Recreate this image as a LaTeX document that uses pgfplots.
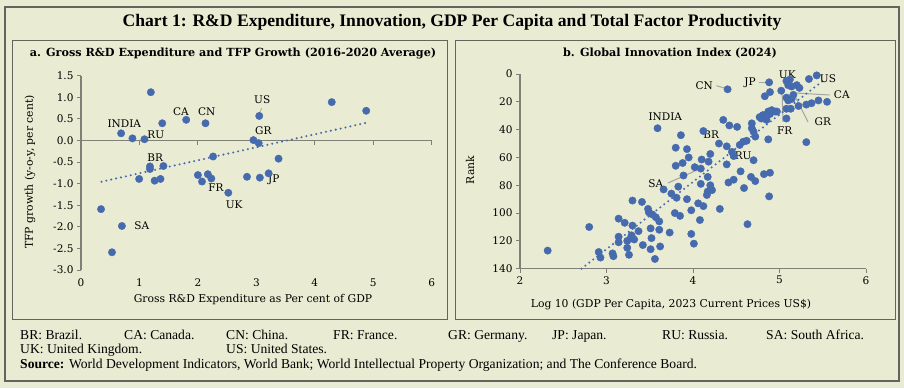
\documentclass[border=0pt]{standalone}
\usepackage{pgfplots}
\usepackage{pgfplotstable}
\pgfplotsset{compat=1.18}
\usepackage{fontspec}
\setmainfont{DejaVu Serif}
\newfontfamily\notefont{Liberation Serif}
\definecolor{bg}{RGB}{233,235,210}
\definecolor{dotblue}{RGB}{70,106,174}
\definecolor{framec}{RGB}{100,100,95}
\definecolor{axisc}{RGB}{128,128,120}
\definecolor{leadc}{RGB}{165,165,160}
\definecolor{leadg}{RGB}{140,200,120}

\pgfplotstableread{
x y
0.343 -1.59
0.53 -2.59
0.70 -1.98
0.686 0.167
0.88 0.05
1.086 0.03
0.995 -0.89
1.195 1.12
1.18 -0.60
1.18 -0.66
1.26 -0.93
1.36 -0.89
1.41 -0.59
1.39 0.40
1.80 0.48
2.13 0.40
2.00 -0.80
2.07 -0.95
2.17 -0.78
2.23 -0.88
2.26 -0.37
2.52 -1.21
2.84 -0.84
2.95 0.01
3.04 -0.06
3.05 0.57
3.06 -0.86
3.21 -0.76
3.38 -0.42
4.29 0.89
4.88 0.69
}\leftdata

\pgfplotstableread{
x r
2.32 127
2.80 110
2.91 128
2.93 132
3.07 129
3.08 131
3.14 104
3.21 107
3.30 109
3.37 113
3.14 117
3.14 121
3.24 120
3.29 116
3.28 118
3.32 119
3.24 125
3.26 130
3.30 91
3.41 92
3.48 97
3.49 99.5
3.53 101
3.57 103
3.61 106
3.51 111
3.61 112
3.52 118
3.42 123
3.62 124
3.51 126
3.56 133
3.73 114
3.98 115
4.01 122
3.79 100
3.85 102
3.98 98
4.06 93
4.12 95
4.08 105
4.31 97
4.63 108
4.88 88
3.66 83
3.75 86
3.81 89
3.93 90
3.83 81
4.09 79
4.20 80
4.17 84.5
4.22 83.5
4.16 87
4.41 78
4.47 76
4.59 82
3.89 73
4.17 74
4.55 70
4.67 74
4.72 77
4.82 72
4.89 71
3.80 66
3.88 64
3.95 60
4.10 61.5
4.20 57.5
4.18 63
4.02 67
4.09 68
4.39 65
3.80 53
3.93 54
3.86 44
3.59 39
4.12 41
4.30 50
4.39 52
4.45 56
4.47 59
4.70 62
4.35 33
4.42 37
4.51 38
4.40 11
4.58 48.7
4.54 51
4.62 48
4.68 35.5
4.68 39
4.70 41.5
4.72 45
4.87 47
4.77 31
4.81 29.5
4.87 27
4.91 26
4.95 27
4.89 28.8
4.85 33
4.79 32
4.97 27
5.08 32
5.43 1
5.34 3.6
5.08 5
5.12 4
5.10 8
5.14 9
5.23 10
5.20 8
5.02 12
4.88 6
4.89 13
4.83 16
5.08 17
5.10 19
5.14 18
5.16 15
5.55 20
5.45 19
5.37 21
5.31 22
5.22 23
5.13 25
5.08 25
5.31 49
}\rightdata

\pgfplotsset{
 mystyle/.style={
  scale only axis,
  axis line style={axisc, line width=1.2pt},
  tick style={axisc, line width=1pt},
  tick align=outside,
  major tick length=4pt,
  ticklabel style={font=\fontsize{10.5}{12}\selectfont, text=black},
  /pgf/number format/assume math mode=true,
  clip=false,
 },
 pts/.style={only marks, mark=*, mark size=3.7pt, color=dotblue, mark options={fill=dotblue, draw=dotblue}},
 trend/.style={dotblue, line width=2.3pt, line cap=round, dash pattern=on 0pt off 5pt},
}
\tikzset{lab/.style={font=\fontsize{10.5}{12}\selectfont, inner sep=0pt}}

\begin{document}
\begin{tikzpicture}[x=1pt,y=-1pt]
\useasboundingbox (0,0) rectangle (904,388);
\fill[bg] (0,0) rectangle (904,388);
\draw[framec, line width=1.2pt] (5,7) rectangle (899,381);
\draw[framec, line width=1pt] (12,40) rectangle (447,319);
\draw[framec, line width=1pt] (455,40) rectangle (895,319);

\node[font=\notefont\bfseries\fontsize{17.6}{19}\selectfont] at (452,22) {Chart 1: R\&D Expenditure, Innovation, GDP Per Capita and Total Factor Productivity};

\node[font=\bfseries\fontsize{11.2}{13}\selectfont] at (233,53) {a. Gross R\&D Expenditure and TFP Growth (2016-2020 Average)};
\node[font=\bfseries\fontsize{11.2}{13}\selectfont] at (670,53) {b. Global Innovation Index (2024)};

\node[font=\fontsize{10.8}{12}\selectfont, rotate=90] at (30,172) {TFP growth (y-o-y, per cent)};
\node[font=\fontsize{10.8}{12}\selectfont] at (253,300) {Gross R\&D Expenditure as Per cent of GDP};
\node[font=\fontsize{10.8}{12}\selectfont, rotate=90] at (470,170) {Rank};
\node[font=\fontsize{10.8}{12}\selectfont] at (671,305) {Log 10 (GDP Per Capita, 2023 Current Prices US\$)};

% left panel
\begin{axis}[mystyle,
  at={(81pt,-270pt)}, anchor=south west,
  width=350.7pt, height=194.2pt,
  xmin=0, xmax=6, ymin=-3, ymax=1.5,
  axis y line*=left, axis x line*=bottom,
  x axis line style={draw=none},
  xtick={0,1,2,3,4,5,6}, xtick style={draw=none},
  ytick={-3,-2.5,-2,-1.5,-1,-0.5,0,0.5,1,1.5},
  yticklabels={-3.0,-2.5,-2.0,-1.5,-1.0,-0.5,0.0,0.5,1.0,1.5},
  xticklabel style={yshift=-1pt},
]
\draw[axisc, line width=1.2pt] (axis cs:0,0) -- (axis cs:6,0);
\pgfplotsinvokeforeach{1,2,3,4,5,6}{\draw[axisc, line width=1pt] (axis cs:#1,0) -- ++(0pt,-4pt);}
\addplot[trend] coordinates {(0.35,-0.955) (4.88,0.41)};
\addplot[pts] table[x=x, y=y] {\leftdata};
\draw[leadg, line width=0.8pt] (axis cs:3.09,0.75) -- (axis cs:3.05,0.62);
\node[lab] at (axis cs:0.74,0.40) {INDIA};
\node[lab] at (axis cs:1.28,0.13) {RU};
\node[lab] at (axis cs:1.71,0.66) {CA};
\node[lab] at (axis cs:2.15,0.68) {CN};
\node[lab] at (axis cs:1.27,-0.39) {BR};
\node[lab] at (axis cs:1.04,-1.98) {SA};
\node[lab] at (axis cs:2.31,-1.09) {FR};
\node[lab] at (axis cs:2.62,-1.48) {UK};
\node[lab] at (axis cs:3.10,0.94) {US};
\node[lab] at (axis cs:3.12,0.22) {GR};
\node[lab] at (axis cs:3.30,-0.92) {JP};
\end{axis}

% right panel
\begin{axis}[mystyle,
  at={(520pt,-268.7pt)}, anchor=south west,
  width=346pt, height=194.7pt,
  xmin=2, xmax=6, ymin=-140, ymax=0,
  axis y line*=left, axis x line*=bottom,
  xtick={2,3,4,5,6},
  ytick={-140,-120,-100,-80,-60,-40,-20,0},
  yticklabels={140,120,100,80,60,40,20,0},
]
\draw[leadc, line width=1pt] (axis cs:4.27,-8.4) -- (axis cs:4.38,-10.4);
\draw[leadc, line width=1pt] (axis cs:4.76,-6.3) -- (axis cs:4.86,-6.3);
\draw[leadc, line width=1pt] (axis cs:5.58,-15.1) -- (axis cs:5.14,-13.5);
\draw[leadc, line width=1pt] (axis cs:5.33,-34.5) -- (axis cs:5.16,-13.7);
\draw[leadc, line width=1pt] (axis cs:5.04,-34.5) -- (axis cs:5.03,-12.2);
\draw[leadc, line width=1pt] (axis cs:3.71,-78.4) -- (axis cs:4.05,-69);
\addplot[pts] table[x=x, y expr=-\thisrow{r}] {\rightdata};
\addplot[trend] coordinates {(2.71,-140) (5.50,-5)};
\node[lab] at (axis cs:4.13,-8.4) {CN};
\node[lab] at (axis cs:4.66,-6.5) {JP};
\node[lab] at (axis cs:5.09,-0.4) {UK};
\node[lab] at (axis cs:5.56,-3.6) {US};
\node[lab] at (axis cs:5.72,-15.1) {CA};
\node[lab] at (axis cs:5.50,-34.5) {GR};
\node[lab] at (axis cs:5.06,-41) {FR};
\node[lab] at (axis cs:3.68,-30.4) {INDIA};
\node[lab] at (axis cs:4.21,-43.9) {BR};
\node[lab] at (axis cs:4.58,-59) {RU};
\node[lab] at (axis cs:3.57,-78.6) {SA};
\end{axis}

% footnotes
\begin{scope}[every node/.style={font=\notefont\fontsize{13.6}{15}\selectfont, anchor=base west, inner sep=0pt}]
\node at (20,339) {BR: Brazil.};
\node at (124,339) {CA: Canada.};
\node at (226,339) {CN: China.};
\node at (333,339) {FR: France.};
\node at (448,339) {GR: Germany.};
\node at (552,339) {JP: Japan.};
\node at (662,339) {RU: Russia.};
\node at (766,339) {SA: South Africa.};
\node at (20,353) {UK: United Kingdom.};
\node at (226,353) {US: United States.};
\node at (20,368) {\textbf{Source:} World Development Indicators, World Bank; World Intellectual Property Organization; and The Conference Board.};
\end{scope}
\end{tikzpicture}
\end{document}
